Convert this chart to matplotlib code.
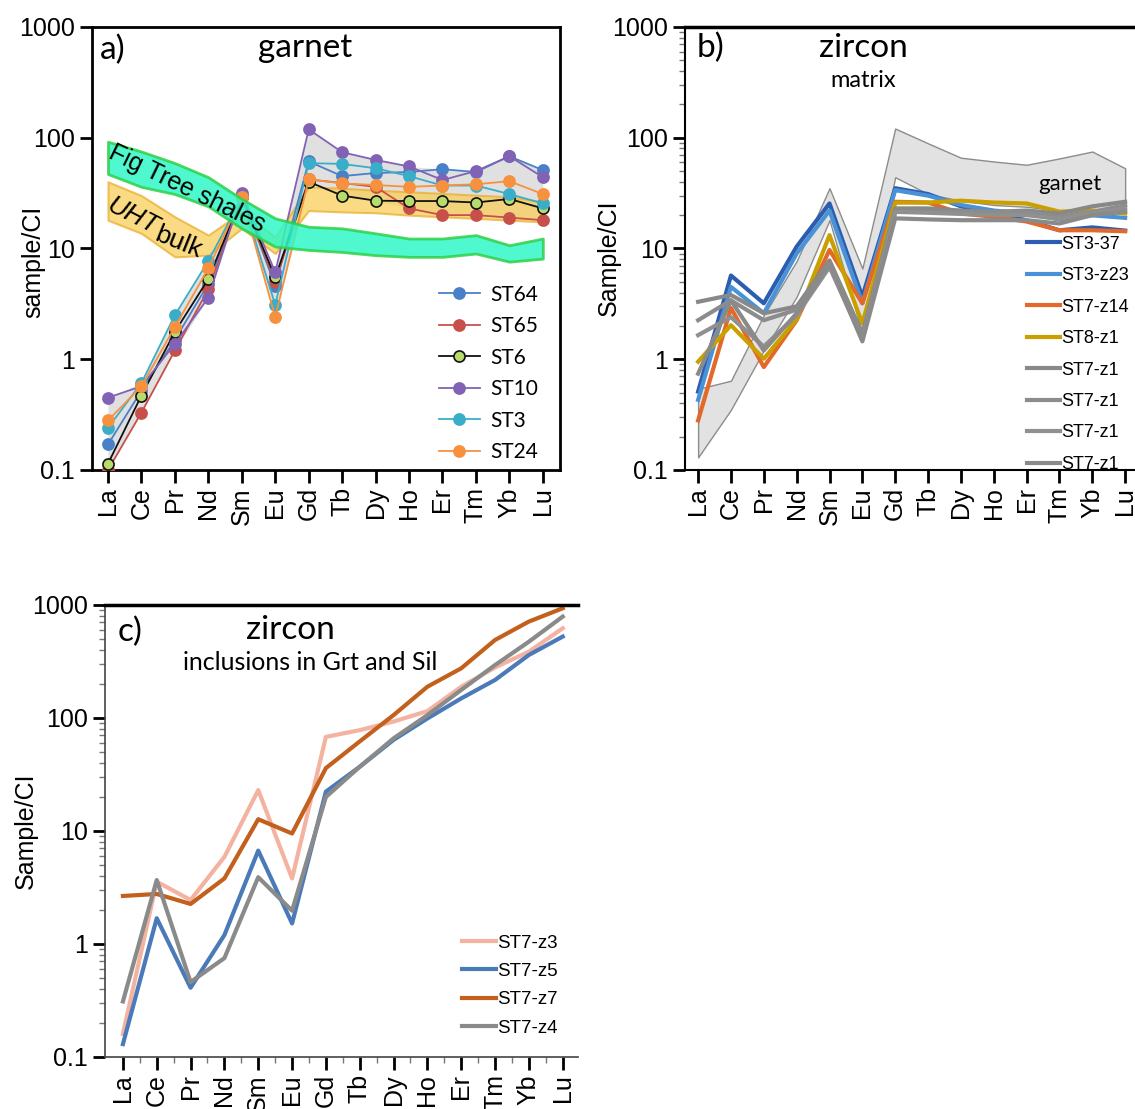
import numpy as np
import matplotlib
matplotlib.use("Agg")
import matplotlib.pyplot as plt
from matplotlib.ticker import LogLocator, NullFormatter, NullLocator, FixedLocator

plt.rcParams['font.family'] = ['Liberation Sans', 'DejaVu Sans']

ree = ['La', 'Ce', 'Pr', 'Nd', 'Sm', 'Eu', 'Gd', 'Tb', 'Dy', 'Ho', 'Er', 'Tm', 'Yb', 'Lu']
x = np.arange(len(ree))

# a) garnet, chondrite normalised
st64 = [0.17, 0.52, 1.5, 4.8, 30, 4.6, 61, 45, 48, 49, 52, 49, 68, 51]
st65 = [0.10, 0.33, 1.2, 4.3, 29, 5.0, 42, 39, 36, 23, 20, 20, 19, 18]
st6 = [0.114, 0.47, 1.77, 5.3, 29, 5.5, 40, 30, 27, 26.8, 26.8, 26, 28, 23]
st10 = [0.45, 0.57, 1.38, 3.6, 32, 6.1, 119, 74, 63, 55, 41.5, 50, 68, 44]
st3 = [0.24, 0.61, 2.5, 7.7, 29, 3.1, 59, 58, 53, 45, 37, 37, 31, 25.5]
st24 = [0.28, 0.57, 1.96, 6.6, 29, 2.4, 42, 38.7, 37.4, 36, 37, 38, 40.5, 31]

figtree_hi = [92, 75, 59, 44, 28, 18.7, 15.7, 15.2, 13.7, 12.3, 12.3, 13.2, 10.7, 12.3]
figtree_lo = [47, 36, 31, 24, 15.2, 10.4, 9.7, 9.3, 8.7, 8.4, 8.4, 9.0, 7.6, 8.1]
uht_hi = [40, 30, 19.3, 13.2, 21.4, 12.7, 36, 35, 33.6, 32.5, 31.4, 30.3, 29.3, 26.4]
uht_lo = [18, 13.7, 8.4, 8.7, 15.2, 9.0, 22, 21.4, 21, 20, 19.3, 18.7, 18, 17.4]

# b) matrix zircon
st3_37 = [0.51, 5.7, 3.2, 10.4, 25.5, 3.66, 35, 31, 24, 20.7, 18, 14.6, 15.5, 14.5]
st3_z23 = [0.43, 4.5, 2.6, 9.0, 22, 3.2, 33.6, 30, 24.7, 22, 20.7, 18.3, 19.9, 18.9]
st7_z14 = [0.28, 2.9, 0.85, 2.25, 9.7, 3.2, 26.4, 26, 20.7, 19.3, 17.5, 14.6, 14.6, 14.3]
st8_z1 = [0.95, 2.03, 1.01, 2.3, 13.2, 2.1, 25.9, 26, 27, 26, 25.5, 21.5, 22, 20.7]
st7_z1_a = [3.3, 3.8, 2.6, 3.0, 7.8, 1.7, 23, 23, 22, 21.4, 22, 20.7, 24, 26.4]
st7_z1_b = [2.25, 3.4, 2.25, 2.8, 7.3, 1.6, 21.4, 21.4, 21.4, 21.4, 21.4, 19.3, 21.4, 24.5]
st7_z1_c = [1.65, 2.4, 1.3, 2.5, 6.8, 1.5, 21.4, 21, 20.5, 20, 20, 18.5, 21, 23]
st7_z1_d = [0.74, 3.4, 1.2, 2.6, 7.3, 1.45, 18.7, 18.3, 18, 18, 18, 16.8, 20, 21.5]
grt_hi = [0.54, 0.64, 2.5, 7.7, 35, 6.6, 121, 89, 66, 61, 57, 65, 75, 53]
grt_lo = [0.13, 0.35, 1.2, 3.66, 18, 1.7, 44, 31, 27, 24.7, 23.8, 22, 21.4, 23.8]

# c) zircon inclusions
st7_z3 = [0.16, 3.56, 2.45, 5.9, 23, 3.8, 68, 78, 93, 115, 189, 280, 386, 622]
st7_z5 = [0.13, 1.69, 0.41, 1.2, 6.7, 1.52, 22.3, 37, 64, 99, 149, 217, 361, 525]
st7_z7 = [2.66, 2.77, 2.26, 3.8, 12.7, 9.5, 36, 62, 106, 189, 275, 490, 713, 935]
st7_z4 = [0.31, 3.68, 0.46, 0.75, 3.9, 1.97, 20, 37, 66, 106, 177, 294, 473, 789]

yt = [0.1, 1, 10, 100, 1000]
ytl = ['0.1', '1', '10', '100', '1000']

fig = plt.figure(figsize=(11.35, 11.09), dpi=100)


def setup(ax, xlo, xhi, minor=True):
    ax.set_yscale('log')
    ax.set_ylim(0.1, 1000)
    ax.set_xlim(xlo, xhi)
    ax.set_xticks(x)
    ax.set_xticklabels(ree, rotation=90)
    ax.yaxis.set_major_locator(FixedLocator(yt))
    ax.set_yticklabels(ytl)
    if minor:
        ax.yaxis.set_minor_locator(LogLocator(base=10, subs=np.arange(2, 10)))
        ax.yaxis.set_minor_formatter(NullFormatter())
        ax.tick_params(axis='y', which='minor', length=4, width=1, color='#777777')
    else:
        ax.yaxis.set_minor_locator(NullLocator())
    ax.tick_params(which='major', labelsize=18, length=9, width=2)


# ---------- a) ----------
ax = fig.add_axes([0.081, 0.5762, 0.412, 0.3995])
setup(ax, -0.48, 13.5, minor=False)
for s in ax.spines.values():
    s.set_linewidth(2)

garnet = np.array([st64, st65, st6, st10, st3, st24])
ax.fill_between(x, garnet.min(axis=0), garnet.max(axis=0), color='#d4d4d4', alpha=0.7, lw=0, zorder=1)
ax.fill_between(x, uht_lo, uht_hi, facecolor='#f9cf5a', edgecolor='#e8b030', alpha=0.75, lw=1.5, zorder=2)

series_a = [('ST64', st64, '#4a80c8', '#4a80c8'),
            ('ST65', st65, '#c8504a', '#c8504a'),
            ('ST6', st6, '#111111', '#b8dc6c'),
            ('ST10', st10, '#8262b4', '#8262b4'),
            ('ST3', st3, '#3aaec8', '#3aaec8'),
            ('ST24', st24, '#f8913e', '#f8913e')]
for name, vals, c, mfc in series_a:
    mec = '#111111' if name == 'ST6' else c
    ax.plot(x, vals, '-o', color=c, lw=1.3, ms=8, mfc=mfc, mec=mec, mew=1.2, label=name, zorder=3)

ax.fill_between(x, figtree_lo, figtree_hi, facecolor='#30f7c6', edgecolor='#2fd048', alpha=0.85, lw=2, zorder=4)

ax.text(2.36, 34.7, 'Fig Tree shales', rotation=-26, fontsize=18, ha='center', va='center', zorder=6)
ax.text(0.72, 19.8, 'UHT', rotation=-27, fontsize=19, style='italic', ha='center', va='center', zorder=6)
ax.text(2.12, 11.3, 'bulk', rotation=-22, fontsize=19, ha='center', va='center', zorder=6)

ax.text(0.017, 0.948, 'a)', transform=ax.transAxes, fontsize=24, family='Lato', va='center', ha='left')
ax.text(0.455, 0.953, 'garnet', transform=ax.transAxes, fontsize=24, family='Lato', va='center', ha='center')
ax.set_ylabel('sample/CI', fontsize=18)
ax.yaxis.set_label_coords(-0.10, 0.47)
ax.legend(loc='lower left', bbox_to_anchor=(0.71, -0.015), frameon=False, prop={'family': 'Lato', 'size': 15},
          handlelength=2.0, handletextpad=0.5, labelspacing=0.55, borderpad=0.2)

# ---------- b) ----------
ax = fig.add_axes([0.6035, 0.5762, 0.3965, 0.3995])
setup(ax, -0.4, 13.3)
ax.spines['right'].set_visible(False)
ax.spines['top'].set_linewidth(2.5)
ax.spines['left'].set_linewidth(1.5)
ax.spines['bottom'].set_linewidth(1.5)

ax.fill_between(x, grt_lo, grt_hi, facecolor='#e2e2e2', edgecolor='#8c8c8c', lw=1, zorder=1)
series_b = [('ST3-37', st3_37, '#2d5db0'),
            ('ST3-z23', st3_z23, '#4a92d6'),
            ('ST7-z14', st7_z14, '#e2692a'),
            ('ST8-z1', st8_z1, '#c9a000'),
            ('ST7-z1', st7_z1_a, '#888888'),
            ('ST7-z1', st7_z1_b, '#8c8c8c'),
            ('ST7-z1', st7_z1_c, '#909090'),
            ('ST7-z1', st7_z1_d, '#8a8a8a')]
for name, vals, c in series_b:
    ax.plot(x, vals, '-', color=c, lw=3, label=name, zorder=3)

ax.text(0.056, 0.953, 'b)', transform=ax.transAxes, fontsize=24, family='Lato', va='center', ha='center')
ax.text(0.396, 0.953, 'zircon', transform=ax.transAxes, fontsize=24, family='Lato', va='center', ha='center')
ax.text(0.396, 0.88, 'matrix', transform=ax.transAxes, fontsize=17, family='Lato', va='center', ha='center')
ax.text(0.856, 0.646, 'garnet', transform=ax.transAxes, fontsize=16, family='Lato', va='center', ha='center')
ax.set_ylabel('Sample/CI', fontsize=18)
ax.yaxis.set_label_coords(-0.142, 0.48)
ax.legend(loc='lower left', bbox_to_anchor=(0.733, -0.035), frameon=False, fontsize=13,
          handlelength=1.8, handletextpad=0.05, labelspacing=0.8, borderpad=0.2)

# ---------- c) ----------
ax = fig.add_axes([0.0925, 0.0469, 0.4167, 0.4076])
setup(ax, -0.53, 13.45)
ax.spines['right'].set_visible(False)
ax.spines['top'].set_linewidth(2.5)
ax.spines['left'].set_linewidth(1.2)
ax.spines['bottom'].set_linewidth(1.2)
ax.spines['left'].set_color('#444444')
ax.spines['bottom'].set_color('#444444')
ax.xaxis.set_minor_locator(FixedLocator(x[:-1] + 0.5))
ax.tick_params(axis='x', which='minor', length=4, width=1, color='#777777')

series_c = [('ST7-z3', st7_z3, '#f4b3a0'),
            ('ST7-z5', st7_z5, '#4a7bb8'),
            ('ST7-z7', st7_z7, '#c2601c'),
            ('ST7-z4', st7_z4, '#8a8a8a')]
for name, vals, c in series_c:
    ax.plot(x, vals, '-', color=c, lw=3, label=name)

ax.text(0.053, 0.94, 'c)', transform=ax.transAxes, fontsize=24, family='Lato', va='center', ha='center')
ax.text(0.391, 0.945, 'zircon', transform=ax.transAxes, fontsize=24, family='Lato', va='center', ha='center')
ax.text(0.433, 0.872, 'inclusions in Grt and Sil', transform=ax.transAxes, fontsize=18, family='Lato',
        va='center', ha='center')
ax.set_ylabel('Sample/CI', fontsize=18)
ax.yaxis.set_label_coords(-0.142, 0.5)
ax.legend(loc='lower left', bbox_to_anchor=(0.728, 0.016), frameon=False, fontsize=13.5,
          handlelength=1.8, handletextpad=0.05, labelspacing=0.6, borderpad=0.2)

fig.savefig('out.png', dpi=100)
